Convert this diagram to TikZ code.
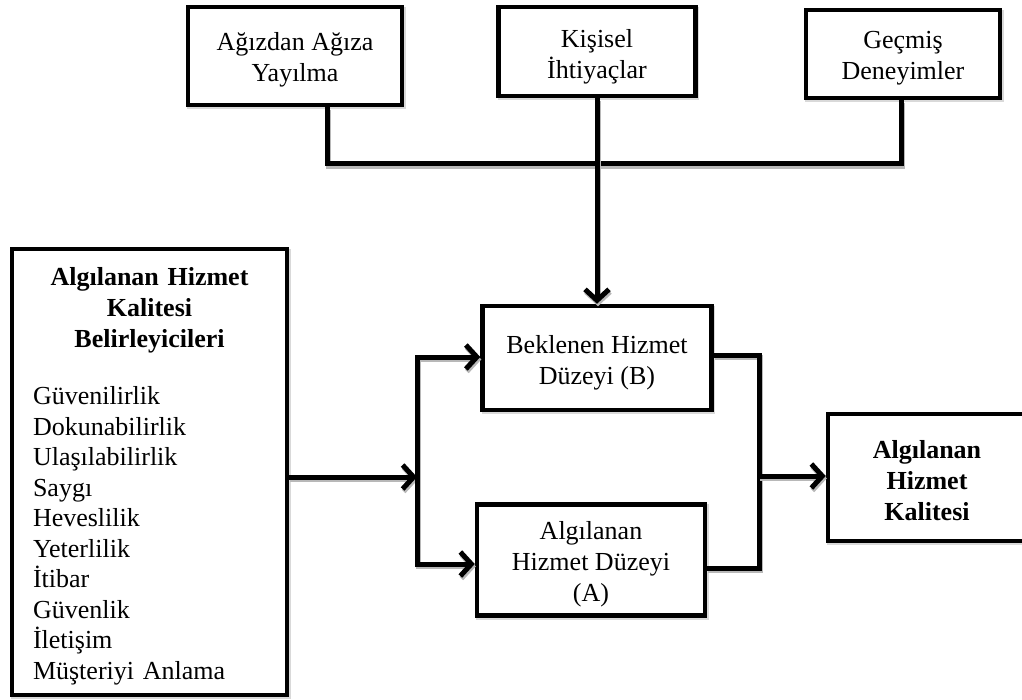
\documentclass[tikz,border=0pt]{standalone}
\usepackage{fontspec}
\setmainfont{Liberation Serif}
\usetikzlibrary{arrows.meta}
\begin{document}
\begin{tikzpicture}[x=1pt,y=-1pt,
  box/.style={draw, line width=4.5pt, fill=white, rectangle, inner sep=0pt,
    preaction={draw=black!15, line width=4.5pt,
      transform canvas={xshift=1.5pt,yshift=-2pt}}},
  txt/.style={align=center, inner sep=0pt, font=\fontsize{26}{31}\selectfont},
  link/.style={draw, line width=5pt,
    preaction={draw=black!28, line width=5pt,
      transform canvas={xshift=1pt,yshift=-2.5pt}}},
  tip/.style={-{Straight Barb[length=11pt,width=24pt]}},
  tips/.style={{Straight Barb[length=11pt,width=24pt]}-{Straight Barb[length=11pt,width=24pt]}}]
\useasboundingbox (0,0) rectangle (1022,700);

% influences on the expected service level
\node[box, minimum width=214pt, minimum height=98pt] (agiz) at (295,56) {};
\node[txt] (agizt) at ([yshift=-4pt]agiz.center) {Ağızdan Ağıza\\Yayılma};
\node[box, minimum width=197pt, minimum height=89pt] (kisi) at (597,51.5) {};
\node[txt] (kisit) at ([yshift=-5pt]kisi.center) {Kişisel\\İhtiyaçlar};
\node[box, minimum width=194pt, minimum height=88pt] (gecm) at (903,54) {};
\node[txt] (gecmt) at ([yshift=-4pt]gecm.center) {Geçmiş\\Deneyimler};

% expected and perceived service levels
\node[box, minimum width=229pt, minimum height=104pt] (bek) at (597,358) {};
\node[txt] (bekt) at ([yshift=-5pt]bek.center) {Beklenen Hizmet\\Düzeyi (B)};
\node[box, minimum width=228pt, minimum height=111pt] (alg) at (591,560) {};
\node[txt] (algt) at ([yshift=-4pt]alg.center) {Algılanan\\Hizmet Düzeyi\\(A)};

% determinants
\node[box, minimum width=275pt, minimum height=446pt] (det) at (149.5,472) {};
\node[txt, text width=233pt, align=left, font=\fontsize{26}{30.5}\selectfont] (dett) at ([yshift=-4pt]det.center)
 {{\centering\bfseries\fontsize{26}{31}\selectfont Algılanan Hizmet\\Kalitesi\\Belirleyicileri\par}\vspace{27pt}%
  Güvenilirlik\\Dokunabilirlik\\Ulaşılabilirlik\\Saygı\\Heveslilik\\Yeterlilik\\İtibar\\Güvenlik\\İletişim\\Müşteriyi Anlama};

% result
\node[box, minimum width=198pt, minimum height=127pt] (kal) at (927,477.5) {};
\node[txt, font=\fontsize{26}{31}\selectfont\bfseries] (kalt) at ([yshift=-3pt]kal.center) {Algılanan\\Hizmet\\Kalitesi};

% connectors from the three influences
\coordinate (jl) at (327,164);
\coordinate (jr) at (901,164);
\draw[link] (agiz.south -| jl) -- (jl) -- (jr) -- (gecm.south -| jr);
\draw[link, tip] (kisi.south) -- (bek.north);

% determinants feed both service levels
\coordinate (spt) at (417,357);
\coordinate (spb) at (417,564);
\coordinate (sp) at (417,477);
\draw[link, tip] (det.east |- sp) -- (sp);
\draw[link, tips] (bek.west |- spt) -- (spt) -- (spb) -- (alg.west |- spb);

% gap between the two levels gives the quality
\coordinate (mgt) at (759,355);
\coordinate (mgb) at (759,568);
\coordinate (mg) at (759,476);
\draw[link] (bek.east |- mgt) -- (mgt) -- (mgb) -- (alg.east |- mgb);
\draw[link, tip] (mg) -- (mg -| kal.west);
\end{tikzpicture}
\end{document}
